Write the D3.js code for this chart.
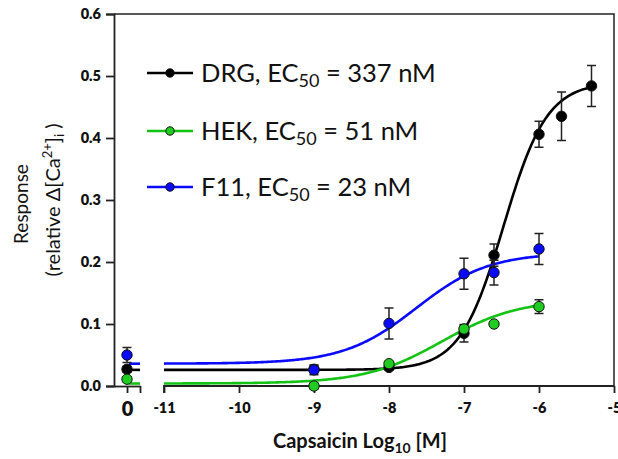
<!DOCTYPE html>
<html>
<head>
<meta charset="utf-8">
<script src="https://cdn.jsdelivr.net/npm/d3@7"></script>
<style>
  body { margin: 0; background: #fff; }
  svg { display: block; }
  text { font-family: Lato, "Open Sans", sans-serif; fill: #111; }
</style>
</head>
<body>
<svg id="chart" width="618" height="459"></svg>
<script>
// Capsaicin concentration-response in three cell types (mean ± SEM)
const seriesNames = ["DRG", "HEK", "F11"];
const seriesColors = ["#000000", "#13c313", "#0a0aff"];
const markerFills = ["#000000", "#1fcc1f", "#0a0aff"];

const drgLogConc = [-9, -8, -7, -6.6, -6, -5.7, -5.3];
const drgResponse = [0.027, 0.030, 0.085, 0.211, 0.406, 0.435, 0.484];
const drgSem = [0.006, 0.004, 0.014, 0.018, 0.021, 0.039, 0.033];

const hekLogConc = [-9, -8, -7, -6.6, -6];
const hekResponse = [0.000, 0.036, 0.092, 0.100, 0.128];
const hekSem = [0.005, 0.003, 0.005, 0.003, 0.011];

const f11LogConc = [-9, -8, -7, -6.6, -6];
const f11Response = [0.026, 0.101, 0.181, 0.183, 0.221];
const f11Sem = [0.008, 0.025, 0.025, 0.020, 0.025];

// Vehicle responses (no capsaicin), plotted at "0"; order DRG, HEK, F11
const controlResponse = [0.027, 0.011, 0.050];
const controlSem = [0.005, 0.004, 0.012];

// Hill-fit parameters
const ec50nM = [337, 51, 23];
const fitBottom = [0.026, 0.004, 0.036];
const fitTop = [0.49, 0.14, 0.215];
const hillSlope = [1.5, 0.85, 0.9];
const fitStart = [-11, -11, -11];
const fitEnd = [-5.3, -6, -6];

const xTicks = [-11, -10, -9, -8, -7, -6, -5];
const yTicks = [0, 0.1, 0.2, 0.3, 0.4, 0.5, 0.6];

const svg = d3.select("#chart");

const plotLeft = 114, plotRight = 614, plotTop = 14, plotBottom = 386;

const x = d3.scaleLinear().domain([-11, -5]).range([164, plotRight]);
// separate short axis segment for the vehicle control
const xCtrl = d3.scaleLinear().domain([-1, 1]).range([plotLeft, 140]);
const y = d3.scaleLinear().domain([0, 0.6]).range([plotBottom, plotTop]);

// frame (top and right)
svg.append("path")
  .attr("d", `M${plotLeft},${plotTop}H${plotRight}V${plotBottom}`)
  .attr("fill", "none").attr("stroke", "#222").attr("stroke-width", 1.5);

// y axis
const yAxis = svg.append("g")
  .attr("transform", `translate(${plotLeft},0)`)
  .call(d3.axisLeft(y).tickValues(yTicks).tickFormat(d3.format(".1f")).tickSize(8).tickPadding(5));
yAxis.selectAll("path,line").attr("stroke", "#222").attr("stroke-width", 1.8);
yAxis.selectAll("text").style("font-size", "14.5px").style("font-weight", "800")
  .style("font-family", "Lato, sans-serif").attr("fill", "#111");

// x axis: control segment
const xCtrlAxis = svg.append("g")
  .attr("transform", `translate(0,${plotBottom})`)
  .call(d3.axisBottom(xCtrl).tickValues([0, 1]).tickFormat(d => d === 0 ? "0" : "").tickSize(7).tickSizeOuter(0).tickPadding(9));
xCtrlAxis.selectAll("path,line").attr("stroke", "#222").attr("stroke-width", 1.8);
xCtrlAxis.selectAll("text").style("font-size", "20px").style("font-weight", "800")
  .style("font-family", "Lato, sans-serif").attr("fill", "#111");

// x axis: log concentration segment
const xAxis = svg.append("g")
  .attr("transform", `translate(0,${plotBottom})`)
  .call(d3.axisBottom(x).tickValues(xTicks).tickFormat(d => String(d)).tickSize(7).tickSizeOuter(0).tickPadding(10));
xAxis.selectAll("path,line").attr("stroke", "#222").attr("stroke-width", 1.8);
xAxis.select(".domain").attr("d", `M${x(-11)},${7}V0H${x(-5)}`);
xAxis.selectAll("text").style("font-size", "14.5px").style("font-weight", "800")
  .style("font-family", "Lato, sans-serif").attr("fill", "#111");

// axis titles
const xTitle = svg.append("text")
  .attr("x", 360).attr("y", 448).attr("text-anchor", "middle")
  .style("font-size", "20px").style("font-weight", "700");
xTitle.append("tspan").text("Capsaicin Log");
xTitle.append("tspan").text("10").style("font-size", "14px").attr("dy", 5);
xTitle.append("tspan").text(" [M]").attr("dy", -5);

svg.append("text")
  .attr("transform", "translate(28,204) rotate(-90)")
  .attr("text-anchor", "middle")
  .style("font-size", "19px")
  .text("Response");

const yTitle2 = svg.append("text")
  .attr("transform", "translate(60,200) rotate(-90)")
  .attr("text-anchor", "middle")
  .style("font-size", "20px");
yTitle2.append("tspan").text("(relative \u0394[Ca");
yTitle2.append("tspan").text("2+").style("font-size", "13px").attr("dy", -8);
yTitle2.append("tspan").text("]").attr("dy", 8);
yTitle2.append("tspan").text("i").style("font-size", "13px").attr("dy", 4);
yTitle2.append("tspan").text(" )").attr("dy", -4);

// Hill equation
function hill(i, logX) {
  const logEC50 = Math.log10(ec50nM[i] * 1e-9);
  return fitBottom[i] + (fitTop[i] - fitBottom[i]) / (1 + Math.pow(10, hillSlope[i] * (logEC50 - logX)));
}

const series = [
  { logConc: drgLogConc, resp: drgResponse, sem: drgSem },
  { logConc: hekLogConc, resp: hekResponse, sem: hekSem },
  { logConc: f11LogConc, resp: f11Response, sem: f11Sem }
];

const line = d3.line().x(d => x(d[0])).y(d => y(d[1])).curve(d3.curveLinear);

// fitted curves and control-segment baselines
series.forEach((s, i) => {
  const pts = d3.range(fitStart[i], fitEnd[i] + 1e-9, 0.02).map(v => [v, hill(i, v)]);
  svg.append("path").datum(pts)
    .attr("d", line)
    .attr("fill", "none").attr("stroke", seriesColors[i]).attr("stroke-width", 2.6);
  svg.append("line")
    .attr("x1", xCtrl(0.15)).attr("x2", xCtrl(1))
    .attr("y1", y(fitBottom[i])).attr("y2", y(fitBottom[i]))
    .attr("stroke", seriesColors[i]).attr("stroke-width", 2.6);
});

// error bars and markers
function drawPoint(g, px, val, err, i) {
  const capW = 4.5;
  g.append("path")
    .attr("d", `M${px},${y(val + err)}V${y(val - err)}M${px - capW},${y(val + err)}H${px + capW}M${px - capW},${y(val - err)}H${px + capW}`)
    .attr("stroke", "#222").attr("stroke-width", 1.5).attr("fill", "none");
  g.append("circle")
    .attr("cx", px).attr("cy", y(val)).attr("r", 5.2)
    .attr("fill", markerFills[i]).attr("stroke", "#111").attr("stroke-width", 1);
}

series.forEach((s, i) => {
  const g = svg.append("g");
  drawPoint(g, xCtrl(0), controlResponse[i], controlSem[i], i);
  s.logConc.forEach((c, k) => drawPoint(g, x(c), s.resp[k], s.sem[k], i));
});

// legend
const legendY = [73, 131, 187];
series.forEach((s, i) => {
  const g = svg.append("g").attr("transform", `translate(0,${legendY[i]})`);
  g.append("line").attr("x1", 147).attr("x2", 193).attr("y1", 0).attr("y2", 0)
    .attr("stroke", seriesColors[i]).attr("stroke-width", 2.6);
  g.append("circle").attr("cx", 170).attr("cy", 0).attr("r", 4.2)
    .attr("fill", markerFills[i]).attr("stroke", "#111").attr("stroke-width", 1);
  const t = g.append("text").attr("x", 201).attr("y", 9).style("font-size", "25.5px");
  t.append("tspan").text(`${seriesNames[i]}, EC`);
  t.append("tspan").text("50").style("font-size", "18px").attr("dy", 5);
  t.append("tspan").text(` = ${ec50nM[i]} nM`).attr("dy", -5);
});
</script>
</body>
</html>
